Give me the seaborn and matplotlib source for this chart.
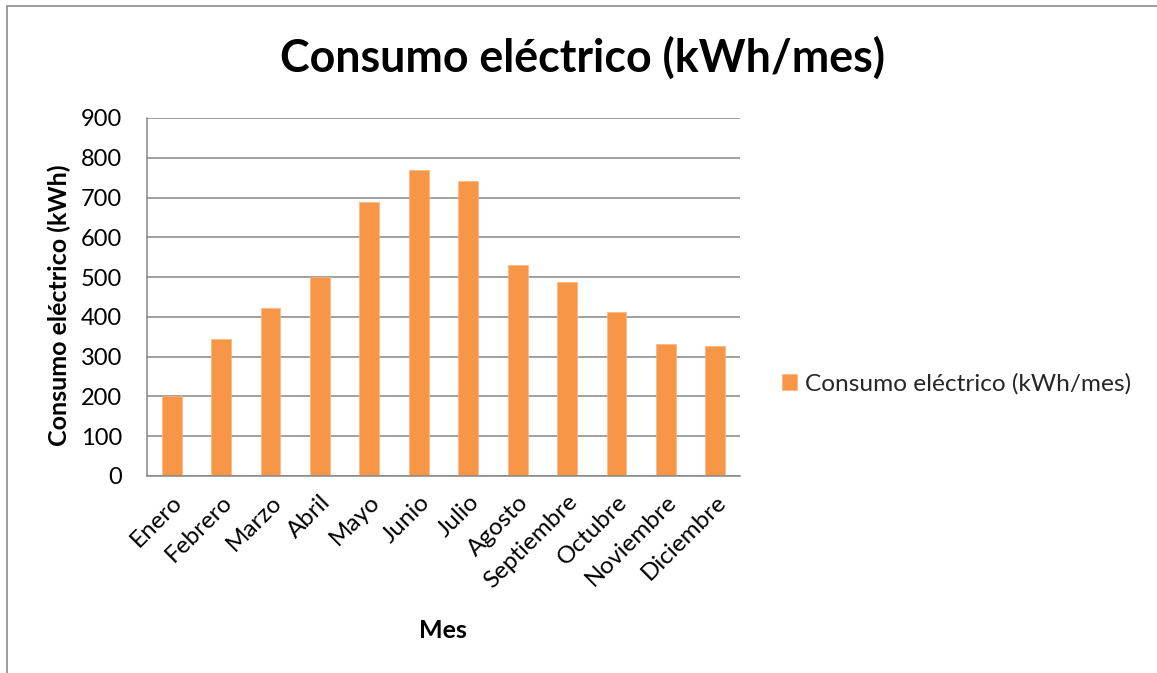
import matplotlib
matplotlib.use("Agg")
import matplotlib.pyplot as plt
import seaborn as sns
from matplotlib.lines import Line2D

months = ["Enero", "Febrero", "Marzo", "Abril", "Mayo", "Junio", "Julio",
          "Agosto", "Septiembre", "Octubre", "Noviembre", "Diciembre"]
consumo = [200, 345, 423, 500, 688, 769, 742, 531, 488, 413, 331, 327]
series_name = "Consumo eléctrico (kWh/mes)"
yticks = [0, 100, 200, 300, 400, 500, 600, 700, 800, 900]

sns.set_theme(style="white")
plt.rcParams['font.family'] = ['Lato', 'DejaVu Sans']

W, H = 1157, 673
fig = plt.figure(figsize=(W / 100, H / 100), dpi=100)
ax = fig.add_axes([147 / W, 1 - 476 / H, (740 - 147) / W, (476 - 118) / H])

orange = "#F79646"
grid_c = "#868686"

sns.barplot(x=months, y=consumo, color=orange, width=0.4, ax=ax,
            label=series_name, saturation=1, edgecolor="#FAB57F", linewidth=0.5)

ax.set_xlim(-0.5, 11.5)
ax.set_ylim(0, 900)
ax.set_yticks(yticks)
ax.yaxis.grid(True, color=grid_c, linewidth=1.1)
ax.set_axisbelow(True)
for s in ["top", "right"]:
    ax.spines[s].set_visible(False)
for s in ["left", "bottom"]:
    ax.spines[s].set_color(grid_c)
    ax.spines[s].set_linewidth(1.1)
ax.tick_params(axis="both", length=0, labelsize=17, colors="black")
ax.tick_params(axis="x", labelsize=17.5)
ax.tick_params(axis="y", pad=18)
ax.tick_params(axis="x", pad=11)
plt.setp(ax.get_xticklabels(), rotation=45, ha="right", rotation_mode="anchor")
ax.set_xlabel("")
ax.set_ylabel("")

fig.text(583 / W, 1 - 58 / H, "Consumo eléctrico (kWh/mes)", ha="center", va="center",
         fontsize=32.2, fontweight="bold", color="black")
fig.text(59 / W, 1 - 305 / H, "Consumo eléctrico (kWh)", ha="center", va="center",
         rotation=90, fontsize=18, fontweight="bold", color="black")
fig.text(443 / W, 1 - 630 / H, "Mes", ha="center", va="center",
         fontsize=18, fontweight="bold", color="black")

leg = ax.legend(loc="center left", bbox_to_anchor=(782 / W, 1 - 384 / H),
                bbox_transform=fig.transFigure, frameon=False, fontsize=17.6,
                handlelength=0.63, handleheight=0.63, handletextpad=0.3,
                borderpad=0, borderaxespad=0)

fig.add_artist(Line2D([7 / W, 7 / W], [0, 1 - 6 / H], transform=fig.transFigure,
                      color="#8C8C8C", linewidth=1.2))
fig.add_artist(Line2D([7 / W, 1], [1 - 6 / H, 1 - 6 / H], transform=fig.transFigure,
                      color="#8C8C8C", linewidth=1.2))

fig.savefig("out.png", dpi=100, facecolor="white")
